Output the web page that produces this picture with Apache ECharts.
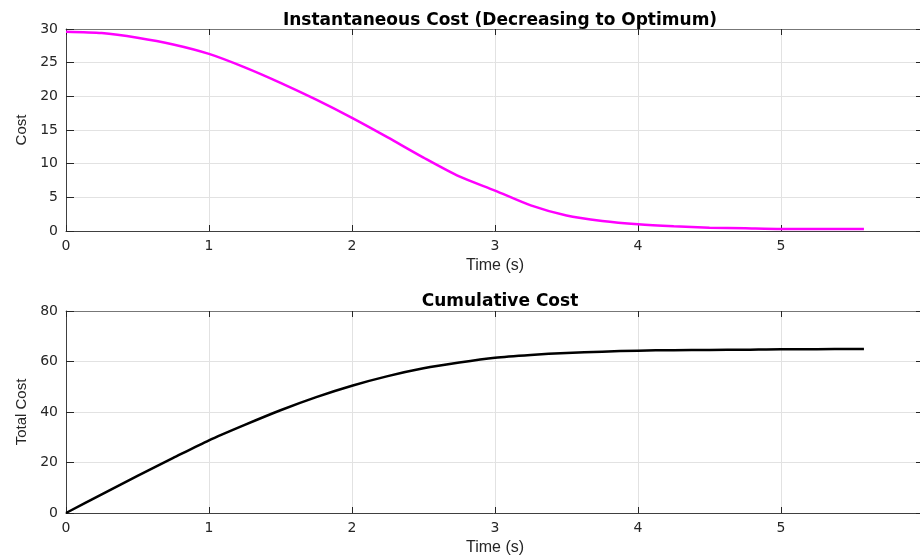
<!DOCTYPE html>
<html>
<head>
<meta charset="utf-8">
<title>Cost</title>
<script src="https://cdn.jsdelivr.net/npm/echarts@6/dist/echarts.min.js"></script>
<style>
  html, body { margin: 0; padding: 0; background: #fff; }
  #chart { width: 920px; height: 555px; }
</style>
</head>
<body>
<div id="chart"></div>
<script>
// time samples (s)
const timeSteps = [0, 0.25, 0.5, 0.75, 1, 1.25, 1.5, 1.75, 2, 2.25, 2.5, 2.75, 3,
  3.25, 3.5, 3.75, 4, 4.25, 4.5, 4.75, 5, 5.25, 5.5, 5.58]
// instantaneous cost
const instCost = [29.6, 29.4, 28.7, 27.7, 26.3, 24.3, 22.0, 19.5, 16.8, 13.9, 10.9, 8.1, 6.0,
  3.8, 2.3, 1.5, 1.0, 0.7, 0.5, 0.4, 0.3, 0.3, 0.3, 0.3]
// cumulative cost
const totalCost = [0, 7.4, 14.7, 21.8, 28.8, 34.9, 40.7, 45.9, 50.4, 54.2, 57.3, 59.6, 61.5,
  62.6, 63.4, 63.9, 64.3, 64.5, 64.6, 64.7, 64.9, 64.9, 65.0, 65.0]
const timeTicks = [0, 1, 2, 3, 4, 5, 6]

const chart = echarts.init(document.getElementById('chart'))

const font = 'Liberation Sans, Arial, Helvetica, sans-serif'
const tickFont = 'DejaVu Sans, Verdana, sans-serif'
const axisColor = '#404040'
const gridColor = '#e2e2e2'

// matlab-ish axis helpers
const xMain = (gridIndex) => ({
  type: 'value',
  gridIndex,
  min: timeTicks[0],
  max: timeTicks[timeTicks.length - 1],
  interval: 1,
  name: 'Time (s)',
  nameLocation: 'middle',
  nameGap: 27,
  nameTextStyle: { fontFamily: font, fontSize: 16, color: '#262626' },
  axisLine: { show: true, onZero: false, lineStyle: { color: axisColor, width: 1 } },
  axisTick: { show: true, inside: true, length: 6, lineStyle: { color: '#262626' } },
  axisLabel: { fontFamily: tickFont, fontSize: 14, color: '#262626', margin: 8, showMaxLabel: true },
  splitLine: { show: true, lineStyle: { color: gridColor } }
})
const xTop = (gridIndex) => ({
  type: 'value',
  gridIndex,
  position: 'top',
  min: timeTicks[0],
  max: timeTicks[timeTicks.length - 1],
  interval: 1,
  axisLine: { show: true, onZero: false, lineStyle: { color: '#777', width: 1 } },
  axisTick: { show: true, inside: true, length: 6, lineStyle: { color: '#262626' } },
  axisLabel: { show: false },
  splitLine: { show: false }
})
const yMain = (gridIndex, name, max, interval) => ({
  type: 'value',
  gridIndex,
  min: 0,
  max,
  interval,
  name,
  nameLocation: 'middle',
  nameGap: 37,
  nameTextStyle: { fontFamily: font, fontSize: 15, color: '#262626' },
  axisLine: { show: true, onZero: false, lineStyle: { color: axisColor, width: 1 } },
  axisTick: { show: true, inside: true, length: 8, lineStyle: { color: '#262626' } },
  axisLabel: { fontFamily: tickFont, fontSize: 14, color: '#262626', margin: 8 },
  splitLine: { show: true, lineStyle: { color: gridColor } }
})
const yRight = (gridIndex, max, interval) => ({
  type: 'value',
  gridIndex,
  position: 'right',
  min: 0,
  max,
  interval,
  axisLine: { show: true, onZero: false, lineStyle: { color: axisColor, width: 1 } },
  axisTick: { show: true, inside: true, length: 8, lineStyle: { color: '#262626' } },
  axisLabel: { show: false },
  splitLine: { show: false }
})

const titleStyle = { fontFamily: 'DejaVu Sans, ' + font, fontSize: 17, fontWeight: 'bold', color: '#000' }

const option = {
  backgroundColor: '#fff',
  animation: false,
  title: [
    {
      text: 'Instantaneous Cost (Decreasing to Optimum)',
      left: 495,
      top: 7,
      textAlign: 'center',
      textStyle: titleStyle
    },
    {
      text: 'Cumulative Cost',
      left: 495,
      top: 288,
      textAlign: 'center',
      textStyle: titleStyle
    }
  ],
  grid: [
    { left: 66, top: 29, width: 858, height: 202, outerBoundsMode: 'none', containLabel: false },
    { left: 66, top: 311, width: 858, height: 202, outerBoundsMode: 'none', containLabel: false }
  ],
  xAxis: [xMain(0), xTop(0), xMain(1), xTop(1)],
  yAxis: [
    yMain(0, 'Cost', 30, 5),
    yRight(0, 30, 5),
    yMain(1, 'Total Cost', 80, 20),
    yRight(1, 80, 20)
  ],
  series: [
    {
      name: 'Instantaneous Cost',
      type: 'line',
      xAxisIndex: 0,
      yAxisIndex: 0,
      data: timeSteps.map((t, i) => [t, instCost[i]]),
      showSymbol: false,
      smooth: 0.25,
      lineStyle: { color: '#ff00ff', width: 2.5 }
    },
    {
      name: 'Total Cost',
      type: 'line',
      xAxisIndex: 2,
      yAxisIndex: 2,
      data: timeSteps.map((t, i) => [t, totalCost[i]]),
      showSymbol: false,
      smooth: 0.25,
      lineStyle: { color: '#000', width: 2.5 }
    }
  ]
}

chart.setOption(option)
</script>
</body>
</html>
